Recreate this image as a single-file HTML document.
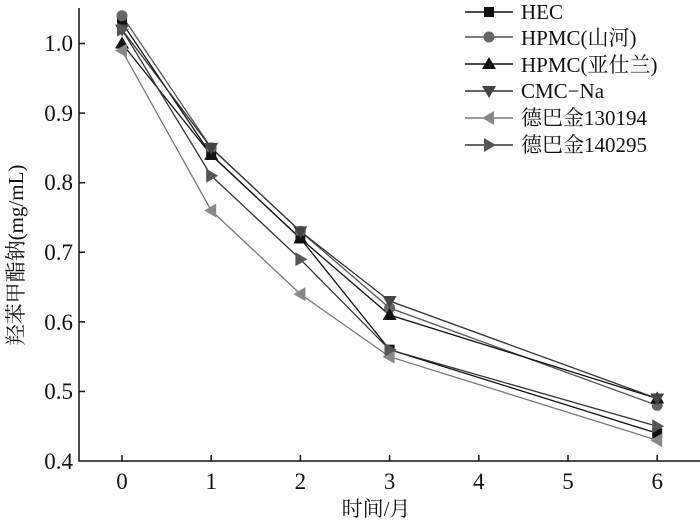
<!DOCTYPE html>
<html><head><meta charset="utf-8"><style>
html,body{margin:0;padding:0;background:#fff;}
svg{display:block;}
text{font-family:"Liberation Serif","Noto Serif CJK SC",serif;fill:#111;}
</style></head><body>
<svg width="700" height="522" viewBox="0 0 700 522" xmlns="http://www.w3.org/2000/svg">
<defs>
<rect id="sq" x="-5" y="-5" width="10" height="10"/>
<circle id="ci" r="5.5"/>
<polygon id="tu" points="0,-7 7,5 -7,5"/>
<polygon id="td" points="0,7 7,-5 -7,-5"/>
<polygon id="tl" points="-7,0 5,-7 5,7"/>
<polygon id="tr" points="7,0 -5,-7 -5,7"/>
</defs>
<path d="M79,8 V461 H700" fill="none" stroke="#111" stroke-width="1.5"/>
<g stroke="#111" stroke-width="1.5">
<line x1="79" y1="43.5" x2="85" y2="43.5"/><line x1="79" y1="113.1" x2="85" y2="113.1"/>
<line x1="79" y1="182.7" x2="85" y2="182.7"/><line x1="79" y1="252.3" x2="85" y2="252.3"/>
<line x1="79" y1="321.9" x2="85" y2="321.9"/><line x1="79" y1="391.5" x2="85" y2="391.5"/>
<line x1="122" y1="461" x2="122" y2="455"/><line x1="211.2" y1="461" x2="211.2" y2="455"/>
<line x1="300.4" y1="461" x2="300.4" y2="455"/><line x1="389.6" y1="461" x2="389.6" y2="455"/>
<line x1="478.8" y1="461" x2="478.8" y2="455"/><line x1="568" y1="461" x2="568" y2="455"/>
<line x1="657.2" y1="461" x2="657.2" y2="455"/>
</g>
<g font-size="23" text-anchor="end">
<text x="73" y="51">1.0</text><text x="73" y="121">0.9</text><text x="73" y="190">0.8</text>
<text x="73" y="260">0.7</text><text x="73" y="330">0.6</text><text x="73" y="399">0.5</text>
<text x="73" y="469">0.4</text>
</g>
<g font-size="23" text-anchor="middle">
<text x="122" y="489">0</text><text x="211.2" y="489">1</text><text x="300.4" y="489">2</text>
<text x="389.6" y="489">3</text><text x="478.8" y="489">4</text><text x="568" y="489">5</text>
<text x="657.2" y="489">6</text>
</g>
<text x="376" y="516" font-size="21" text-anchor="middle">时间/月</text>
<text transform="translate(23,255) rotate(-90)" font-size="21" text-anchor="middle">羟苯甲酯钠(mg/mL)</text>
<g fill="none" stroke-width="1.3">
<polyline stroke="#111" points="122,22.6 211.2,154.9 300.4,238.4 389.6,349.7 657.2,433.3"/>
<polyline stroke="#555" points="122,15.7 211.2,147.9 300.4,231.4 389.6,308 657.2,405.4"/>
<polyline stroke="#111" points="122,43.5 211.2,154.9 300.4,238.4 389.6,315 657.2,398.5"/>
<polyline stroke="#333" points="122,29.6 211.2,147.9 300.4,231.4 389.6,301 657.2,398.5"/>
<polyline stroke="#777" points="122,50.5 211.2,210.5 300.4,294.1 389.6,356.7 657.2,440.2"/>
<polyline stroke="#333" points="122,29.6 211.2,175.7 300.4,259.3 389.6,349.7 657.2,426.3"/>
</g>
<g fill="#111"><use href="#sq" x="122" y="22.6"/><use href="#sq" x="211.2" y="154.9"/><use href="#sq" x="300.4" y="238.4"/><use href="#sq" x="389.6" y="349.7"/><use href="#sq" x="657.2" y="433.3"/></g>
<g fill="#666"><use href="#ci" x="122" y="15.7"/><use href="#ci" x="211.2" y="147.9"/><use href="#ci" x="300.4" y="231.4"/><use href="#ci" x="389.6" y="308"/><use href="#ci" x="657.2" y="405.4"/></g>
<g fill="#111"><use href="#tu" x="122" y="43.5"/><use href="#tu" x="211.2" y="154.9"/><use href="#tu" x="300.4" y="238.4"/><use href="#tu" x="389.6" y="315"/><use href="#tu" x="657.2" y="398.5"/></g>
<g fill="#444"><use href="#td" x="122" y="29.6"/><use href="#td" x="211.2" y="147.9"/><use href="#td" x="300.4" y="231.4"/><use href="#td" x="389.6" y="301"/><use href="#td" x="657.2" y="398.5"/></g>
<g fill="#888"><use href="#tl" x="122" y="50.5"/><use href="#tl" x="211.2" y="210.5"/><use href="#tl" x="300.4" y="294.1"/><use href="#tl" x="389.6" y="356.7"/><use href="#tl" x="657.2" y="440.2"/></g>
<g fill="#555"><use href="#tr" x="122" y="29.6"/><use href="#tr" x="211.2" y="175.7"/><use href="#tr" x="300.4" y="259.3"/><use href="#tr" x="389.6" y="349.7"/><use href="#tr" x="657.2" y="426.3"/></g>
<g stroke-width="1.5">
<line x1="465" y1="12" x2="513" y2="12" stroke="#111"/>
<line x1="465" y1="37" x2="513" y2="37" stroke="#555"/>
<line x1="465" y1="64" x2="513" y2="64" stroke="#111"/>
<line x1="465" y1="91" x2="513" y2="91" stroke="#333"/>
<line x1="465" y1="118" x2="513" y2="118" stroke="#777"/>
<line x1="465" y1="145" x2="513" y2="145" stroke="#333"/>
</g>
<use href="#sq" x="489" y="12" fill="#111"/>
<use href="#ci" x="489" y="37" fill="#666"/>
<use href="#tu" x="489" y="64" fill="#111"/>
<use href="#td" x="489" y="91" fill="#444"/>
<use href="#tl" x="489" y="118" fill="#888"/>
<use href="#tr" x="489" y="145" fill="#555"/>
<g font-size="21">
<text x="521" y="19">HEC</text>
<text x="521" y="45">HPMC(山河)</text>
<text x="521" y="72">HPMC(亚仕兰)</text>
<text x="521" y="98">CMC−Na</text>
<text x="521" y="125">德巴金130194</text>
<text x="521" y="152">德巴金140295</text>
</g>
</svg>
</body></html>
